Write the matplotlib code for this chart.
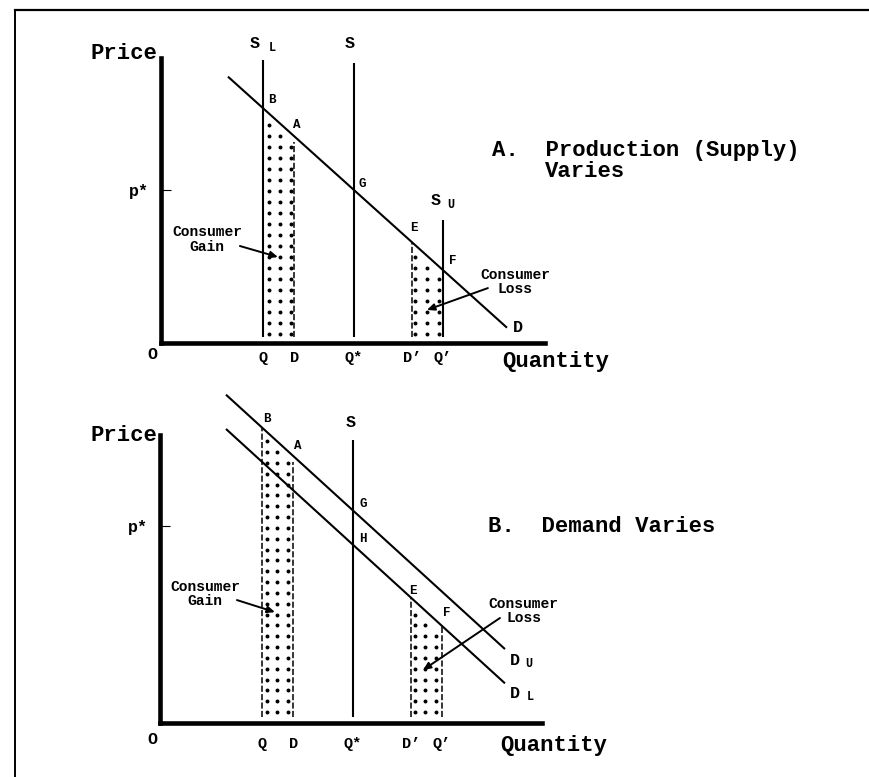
import numpy as np
import matplotlib
matplotlib.use("Agg")
import matplotlib.pyplot as plt
from matplotlib.lines import Line2D

plt.rcParams['font.family'] = ['Liberation Mono', 'DejaVu Sans Mono']

# quantities on the horizontal axis (same in both panels)
q_ticks = [5.3, 6.9, 10.0, 13.0, 14.6]
q_labels = ["Q", "D", "Q*", "D’", "Q’"]
Q_LO, Q_D, Q_STAR, Q_DP, Q_HI = q_ticks
p_star = 10.0

# panel A: one demand curve P = a - b*Q, supply shifts
demand_a = [21.35, 1.135]
demand_a_span = [3.47, 17.93]
supply_a_tops = [18.5, 18.3, 8.04]      # S_L, S, S_U

# panel B: supply fixed, demand shifts
demand_upper = [19.72, 0.893]
demand_lower = [17.98, 0.893]
demand_b_span = [3.42, 17.88]
supply_b_top = 14.37

# label/arrow anchor points (data units of each panel)
gain_a = {"text": (2.38, 6.76), "tail": (4.09, 6.34), "head": (6.06, 5.62)}
loss_a = {"text": (18.34, 3.99), "tail": (16.94, 3.59), "head": (13.78, 2.16)}
gain_b = {"text": (2.33, 6.55), "tail": (3.99, 6.24), "head": (5.96, 5.63)}
loss_b = {"text": (18.86, 5.69), "tail": (17.62, 5.33), "head": (13.63, 2.69)}


def price(curve, q):
    return curve[0] - curve[1] * np.asarray(q)


fig = plt.figure(figsize=(8.69, 7.77), dpi=100)

# outer frame (left and top edges only, like the scan)
fig.add_artist(Line2D([15 / 869, 15 / 869], [0, 1 - 10 / 777],
                      transform=fig.transFigure, color="black", lw=1.4))
fig.add_artist(Line2D([15 / 869, 1], [1 - 10 / 777, 1 - 10 / 777],
                      transform=fig.transFigure, color="black", lw=1.6))


def setup_axes(rect, xmax, ymax, xpad):
    ax = fig.add_axes(rect)
    ax.set_xlim(0, xmax)
    ax.set_ylim(0, ymax)
    ax.patch.set_visible(False)
    for s in ["top", "right"]:
        ax.spines[s].set_visible(False)
    for s in ["left", "bottom"]:
        ax.spines[s].set_linewidth(3.3)
    ax.set_xticks(q_ticks, q_labels)
    ax.set_yticks([p_star], ["p*"])
    ax.tick_params(axis="x", length=0, labelsize=11, pad=xpad)
    ax.tick_params(axis="y", direction="in", length=7, width=0.8,
                   labelsize=12, pad=9)
    for lbl in ax.get_xticklabels() + ax.get_yticklabels():
        lbl.set_fontweight("bold")
    return ax


def dots(ax, x0, x1, curve, y0, ystep):
    xs = np.linspace(x0, x1, 3)
    ys = np.arange(y0, curve[0], ystep)
    X, Y = np.meshgrid(xs, ys)
    keep = Y < price(curve, X) - 0.3
    ax.scatter(X[keep], Y[keep], s=8, c="black", lw=0, zorder=3)


def point_label(ax, txt, xy, off, size=9):
    ax.annotate(txt, xy=xy, xytext=off, textcoords="offset points",
                ha="center", va="center", fontsize=size, fontweight="bold",
                annotation_clip=False)


def note(ax, lines, d):
    ax.text(*d["text"], lines, ha="center", va="center", fontsize=10.5,
            fontweight="bold", linespacing=1.05, clip_on=False)
    ax.annotate("", xy=d["head"], xytext=d["tail"],
                arrowprops=dict(arrowstyle="-|>,head_length=0.45,head_width=0.2",
                                lw=1.4, color="black", shrinkA=0, shrinkB=0))


line_kw = dict(color="black", lw=1.5, solid_capstyle="butt", clip_on=False)
dash_kw = dict(color="black", lw=1.1, ls=(0, (4, 1.5)), clip_on=False)
big_kw = dict(fontsize=16, fontweight="bold", clip_on=False)

# ---------------- Panel A: production (supply) varies ----------------
axA = setup_axes([161 / 869, 1 - 343 / 777, 384 / 869, 285 / 777], 19.9, 18.63, 6)

qa = np.array(demand_a_span)
axA.plot(qa, price(demand_a, qa), **line_kw)
for q, top in zip([Q_LO, Q_STAR, Q_HI], supply_a_tops):
    axA.plot([q, q], [0.4, top], **line_kw)
axA.plot([Q_D, Q_D], [0.4, price(demand_a, Q_D) - 0.4], **dash_kw)
axA.plot([Q_DP, Q_DP], [0.4, price(demand_a, Q_DP)], **dash_kw)
dots(axA, Q_LO + 0.3, Q_D - 0.16, demand_a, 0.6, 0.72)
dots(axA, Q_DP + 0.16, Q_HI - 0.2, demand_a, 0.6, 0.72)

point_label(axA, "B", (Q_LO, price(demand_a, Q_LO)), (6.5, 5.8))
point_label(axA, "A", (Q_D, price(demand_a, Q_D)), (2.2, 7.9))
point_label(axA, "G", (Q_STAR, p_star), (5.8, 4.3))
point_label(axA, "E", (Q_DP, price(demand_a, Q_DP)), (1.4, 10))
point_label(axA, "F", (Q_HI, price(demand_a, Q_HI)), (7.2, 6.5))
point_label(axA, "D", (qa[1], price(demand_a, qa[1])), (8, 0), 12)
point_label(axA, "S", (Q_LO, supply_a_tops[0]), (-6.5, 12.2), 12)
point_label(axA, "L", (Q_LO, supply_a_tops[0]), (6.5, 8.6), 8.5)
point_label(axA, "S", (Q_STAR, supply_a_tops[1]), (-2.9, 14.4), 12)
point_label(axA, "S", (Q_HI, supply_a_tops[2]), (-5, 14.4), 12)
point_label(axA, "U", (Q_HI, supply_a_tops[2]), (5.8, 10.8), 8.5)

note(axA, "Consumer\nGain", gain_a)
note(axA, "Consumer\nLoss", loss_a)

axA.text(-0.21, 18.95, "Price", ha="right", va="center", **big_kw)
axA.text(-0.47, -0.78, "O", ha="center", va="center", fontsize=12,
         fontweight="bold", clip_on=False)
axA.text(17.67, -1.24, "Quantity", ha="left", va="center", **big_kw)
axA.text(17.15, 12.61, "A.  Production (Supply)", ha="left", va="center",
         **big_kw)
axA.text(19.9, 11.18, "Varies", ha="left", va="center", **big_kw)

# ---------------- Panel B: demand varies ----------------
axB = setup_axes([160 / 869, 1 - 723 / 777, 382 / 869, 288 / 777], 19.8, 14.62, 10)

qb = np.array(demand_b_span)
axB.plot(qb, price(demand_upper, qb), **line_kw)
axB.plot(qb, price(demand_lower, qb), **line_kw)
axB.plot([Q_STAR, Q_STAR], [0.3, supply_b_top], **line_kw)
axB.plot([Q_LO, Q_LO], [0.3, price(demand_upper, Q_LO)], **dash_kw)
axB.plot([Q_D, Q_D], [0.3, price(demand_upper, Q_D) - 0.3], **dash_kw)
axB.plot([Q_DP, Q_DP], [0.3, price(demand_lower, Q_DP)], **dash_kw)
axB.plot([Q_HI, Q_HI], [0.3, price(demand_lower, Q_HI)], **dash_kw)
dots(axB, Q_LO + 0.25, Q_D - 0.27, demand_upper, 0.55, 0.55)
dots(axB, Q_DP + 0.2, Q_HI - 0.3, demand_lower, 0.55, 0.55)

point_label(axB, "B", (Q_LO, price(demand_upper, Q_LO)), (3.6, 6.5))
point_label(axB, "A", (Q_D, price(demand_upper, Q_D)), (3.6, 7.2))
point_label(axB, "S", (Q_STAR, supply_b_top), (-1.4, 12.2), 12)
point_label(axB, "G", (Q_STAR, price(demand_upper, Q_STAR)), (7.2, 4.3))
point_label(axB, "H", (Q_STAR, price(demand_lower, Q_STAR)), (7.2, 4.3))
point_label(axB, "E", (Q_DP, price(demand_lower, Q_DP)), (1.4, 5))
point_label(axB, "F", (Q_HI, price(demand_lower, Q_HI)), (3.6, 9.4))
point_label(axB, "D", (qb[1], price(demand_upper, qb[1])), (7.2, -7.9), 12)
point_label(axB, "U", (qb[1], price(demand_upper, qb[1])), (17.3, -10.8), 8.5)
point_label(axB, "D", (qb[1], price(demand_lower, qb[1])), (7.2, -7.2), 12)
point_label(axB, "L", (qb[1], price(demand_lower, qb[1])), (18, -10), 8.5)

note(axB, "Consumer\nGain", gain_b)
note(axB, "Consumer\nLoss", loss_b)

axB.text(-0.16, 14.62, "Price", ha="right", va="center", **big_kw)
axB.text(-0.41, -0.86, "O", ha="center", va="center", fontsize=12,
         fontweight="bold", clip_on=False)
axB.text(17.62, -1.12, "Quantity", ha="left", va="center", **big_kw)
axB.text(16.99, 10.0, "B.  Demand Varies", ha="left", va="center", **big_kw)

fig.savefig("out.png", dpi=100)
